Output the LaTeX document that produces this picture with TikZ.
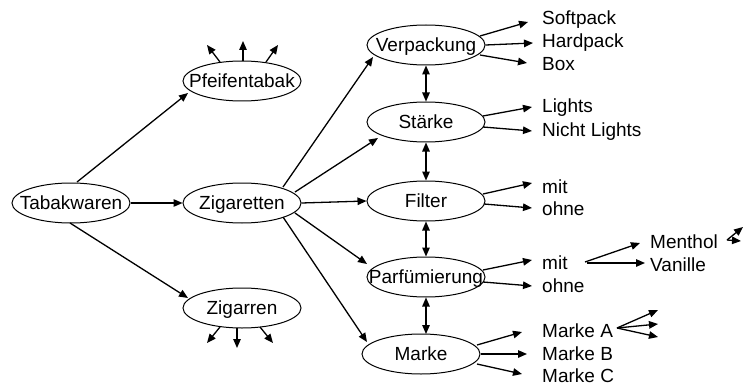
\documentclass[tikz,border=0pt]{standalone}
\usepackage{fontspec}
\setmainfont{Liberation Sans}
\usetikzlibrary{shapes.geometric,arrows.meta}
\begin{document}
\begin{tikzpicture}[x=1pt,y=-1pt,
  ell/.style={draw, ellipse, line width=1pt, minimum width=118pt, minimum height=40pt, inner sep=0pt, text height=13.6pt, text depth=0pt, font=\fontsize{19pt}{22pt}\selectfont},
  leaf/.style={anchor=base west, inner sep=0pt, font=\fontsize{19pt}{22pt}\selectfont},
  arr/.style={line width=1.3pt, -{Triangle[length=9pt,width=7.5pt]}},
  darr/.style={line width=1.3pt, {Triangle[length=9pt,width=7.5pt]}-{Triangle[length=9pt,width=7.5pt]}}]
\useasboundingbox (0,0) rectangle (744,385);
% ellipses
\node[ell] (tab) at (71,203) {\makebox[0pt]{Tabakwaren}};
\node[ell] (zig) at (242,203) {\makebox[0pt]{Zigaretten}};
\node[ell] (pfeif) at (242,81) {\makebox[0pt]{Pfeifentabak}};
\node[ell] (zigarren) at (242,308) {\makebox[0pt]{Zigarren}};
\node[ell] (verp) at (426,45) {\makebox[0pt]{Verpackung}};
\node[ell] (staerke) at (426,122) {\makebox[0pt]{Stärke}};
\node[ell] (filter) at (426,201) {\makebox[0pt]{Filter}};
\node[ell] (parf) at (426,277) {\makebox[0pt]{Parfümierung}};
\node[ell] (marke) at (421,354) {\makebox[0pt]{Marke}};
% leaves
\node[leaf] (soft) at (542,25) {Softpack};
\node[leaf] (hard) at (542,48) {Hardpack};
\node[leaf] (box) at (542,71) {Box};
\node[leaf] (lights) at (542,113) {Lights};
\node[leaf] (nlights) at (542,137) {Nicht Lights};
\node[leaf] (fmit) at (542,193) {mit};
\node[leaf] (fohne) at (542,215) {ohne};
\node[leaf] (pmit) at (542,269) {mit};
\node[leaf] (pohne) at (542,292) {ohne};
\node[leaf] (menthol) at (650,248) {Menthol};
\node[leaf] (vanille) at (650,271) {Vanille};
\node[leaf] (ma) at (542,337) {Marke A};
\node[leaf] (mb) at (542,360) {Marke B};
\node[leaf] (mc) at (542,382) {Marke C};
% free ends
\coordinate (pf1) at ([shift={(-35,-36)}]pfeif.center);
\coordinate (pf2) at ([shift={(1,-40)}]pfeif.center);
\coordinate (pf3) at ([shift={(36,-36)}]pfeif.center);
\coordinate (zr1) at ([shift={(-35,35)}]zigarren.center);
\coordinate (zr2) at ([shift={(-5,40)}]zigarren.center);
\coordinate (zr3) at ([shift={(31,35)}]zigarren.center);
\coordinate (ma1) at (658,310);
\coordinate (ma2) at (658,324);
\coordinate (ma3) at (658,337);
\coordinate (me1) at (743,227);
\coordinate (me2) at (741,241);
% Tabakwaren
\draw[arr] ([shift={(6,-21)}]tab.center) -- ([shift={(-54,12)}]pfeif.center);
\draw[arr] (tab.east) -- (zig.west);
\draw[arr] ([shift={(-1,20)}]tab.center) -- ([shift={(-54,-10)}]zigarren.center);
% Pfeifentabak / Zigarren
\draw[arr] ([shift={(-22,-19)}]pfeif.center) -- (pf1);
\draw[arr] ([shift={(1,-20)}]pfeif.center) -- (pf2);
\draw[arr] ([shift={(24,-19)}]pfeif.center) -- (pf3);
\draw[arr] ([shift={(-22,19)}]zigarren.center) -- (zr1);
\draw[arr] ([shift={(-5,20)}]zigarren.center) -- (zr2);
\draw[arr] ([shift={(18,19)}]zigarren.center) -- (zr3);
% Zigaretten
\draw[arr] ([shift={(41,-16)}]zig.center) -- ([shift={(-53,12)}]verp.center);
\draw[arr] ([shift={(53,-11)}]zig.center) -- ([shift={(-48,16)}]staerke.center);
\draw[arr] (zig.east) -- (filter.west);
\draw[arr] ([shift={(53,10)}]zig.center) -- ([shift={(-59,-13)}]parf.center);
\draw[arr] ([shift={(41,14)}]zig.center) -- ([shift={(-54,-12)}]marke.center);
% vertical double arrows
\draw[darr] (verp.south) -- (staerke.north);
\draw[darr] (staerke.south) -- (filter.north);
\draw[darr] (filter.south) -- (parf.north);
\draw[darr] (parf.south) -- ([shift={(5,-20)}]marke.center);
% Verpackung
\draw[arr] ([shift={(54,-9)}]verp.center) -- ([shift={(-14,-3)}]soft.base west);
\draw[arr] (verp.east) -- ([shift={(-9,-5)}]hard.base west);
\draw[arr] ([shift={(54,10)}]verp.center) -- ([shift={(-15,-8)}]box.base west);
% Staerke
\draw[arr] ([shift={(57,-6)}]staerke.center) -- ([shift={(-10,-6)}]lights.base west);
\draw[arr] ([shift={(57,5)}]staerke.center) -- ([shift={(-10,-6)}]nlights.base west);
% Filter
\draw[arr] ([shift={(57,-7)}]filter.center) -- ([shift={(-10,-10)}]fmit.base west);
\draw[arr] ([shift={(58,3)}]filter.center) -- ([shift={(-10,-7)}]fohne.base west);
% Parfuemierung
\draw[arr] ([shift={(57,-7)}]parf.center) -- ([shift={(-10,-9)}]pmit.base west);
\draw[arr] ([shift={(57,5)}]parf.center) -- ([shift={(-10,-6)}]pohne.base west);
\draw[arr] ([shift={(43,-7)}]pmit.base west) -- ([shift={(-10,-5)}]menthol.base west);
\draw[arr] ([shift={(45,-6)}]pmit.base west) -- ([shift={(-5,-8)}]vanille.base west);
\draw[arr] ([shift={(77,-8)}]menthol.base west) -- (me1);
\draw[arr] ([shift={(77,-8)}]menthol.base west) -- (me2);
% Marke
\draw[arr] ([shift={(56,-9)}]marke.center) -- ([shift={(-20,-5)}]ma.base west);
\draw[arr] (marke.east) -- ([shift={(-15,-6)}]mb.base west);
\draw[arr] ([shift={(56,10)}]marke.center) -- ([shift={(-20,-8)}]mc.base west);
\draw[arr] ([shift={(75,-9)}]ma.base west) -- (ma1);
\draw[arr] ([shift={(75,-9)}]ma.base west) -- (ma2);
\draw[arr] ([shift={(75,-9)}]ma.base west) -- (ma3);
\end{tikzpicture}
\end{document}
